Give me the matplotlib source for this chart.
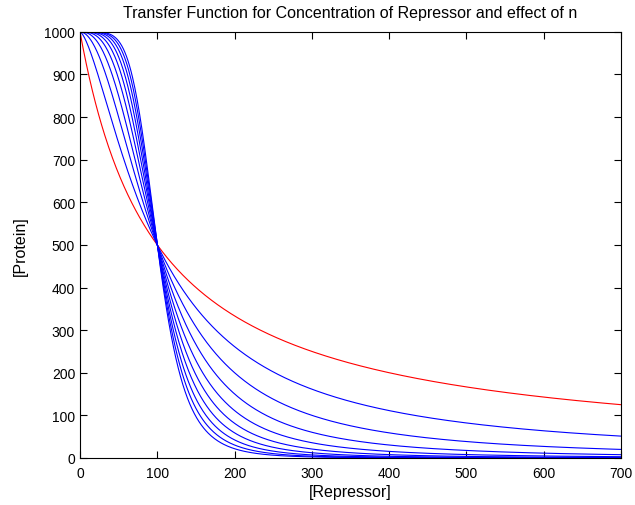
import numpy as np
import matplotlib
matplotlib.use("Agg")
import matplotlib.pyplot as plt

plt.rcParams['font.family'] = ['Liberation Sans', 'DejaVu Sans']

# transfer function parameters
p_max = 1000          # [Protein] at zero repressor
k_half = 100          # repressor level where curves cross at 500
n_red = 1
n_blue = [1.5, 2, 2.5, 3, 3.5, 4, 4.5, 5, 5.5]
repressor = np.arange(0, 701, 1)

x_ticks = [0, 100, 200, 300, 400, 500, 600, 700]
y_ticks = [0, 100, 200, 300, 400, 500, 600, 700, 800, 900, 1000]


def hill(r, n):
    return p_max / (1 + (r / k_half) ** n)


fig = plt.figure(figsize=(6.35, 5.06), dpi=100)
ax = fig.add_axes([0.126, 0.093, 0.852, 0.842])

ax.plot(repressor, hill(repressor, n_red), color='red', lw=0.8)
for n in n_blue:
    ax.plot(repressor, hill(repressor, n), color='blue', lw=0.8)

ax.set_xlim(0, 700)
ax.set_ylim(0, 1000)
ax.set_xticks(x_ticks)
ax.set_yticks(y_ticks)
ax.tick_params(direction='in', top=True, right=True, labelsize=10, length=5, width=0.8)
ax.tick_params(axis='x', pad=6)
for s in ax.spines.values():
    s.set_linewidth(0.8)

ax.set_title('Transfer Function for Concentration of Repressor and effect of n',
             fontsize=11.5, pad=11)
ax.set_xlabel('[Repressor]', fontsize=11.5, labelpad=3)
ax.set_ylabel('[Protein]', fontsize=11.5, labelpad=12)

fig.savefig('out.png', dpi=100)
